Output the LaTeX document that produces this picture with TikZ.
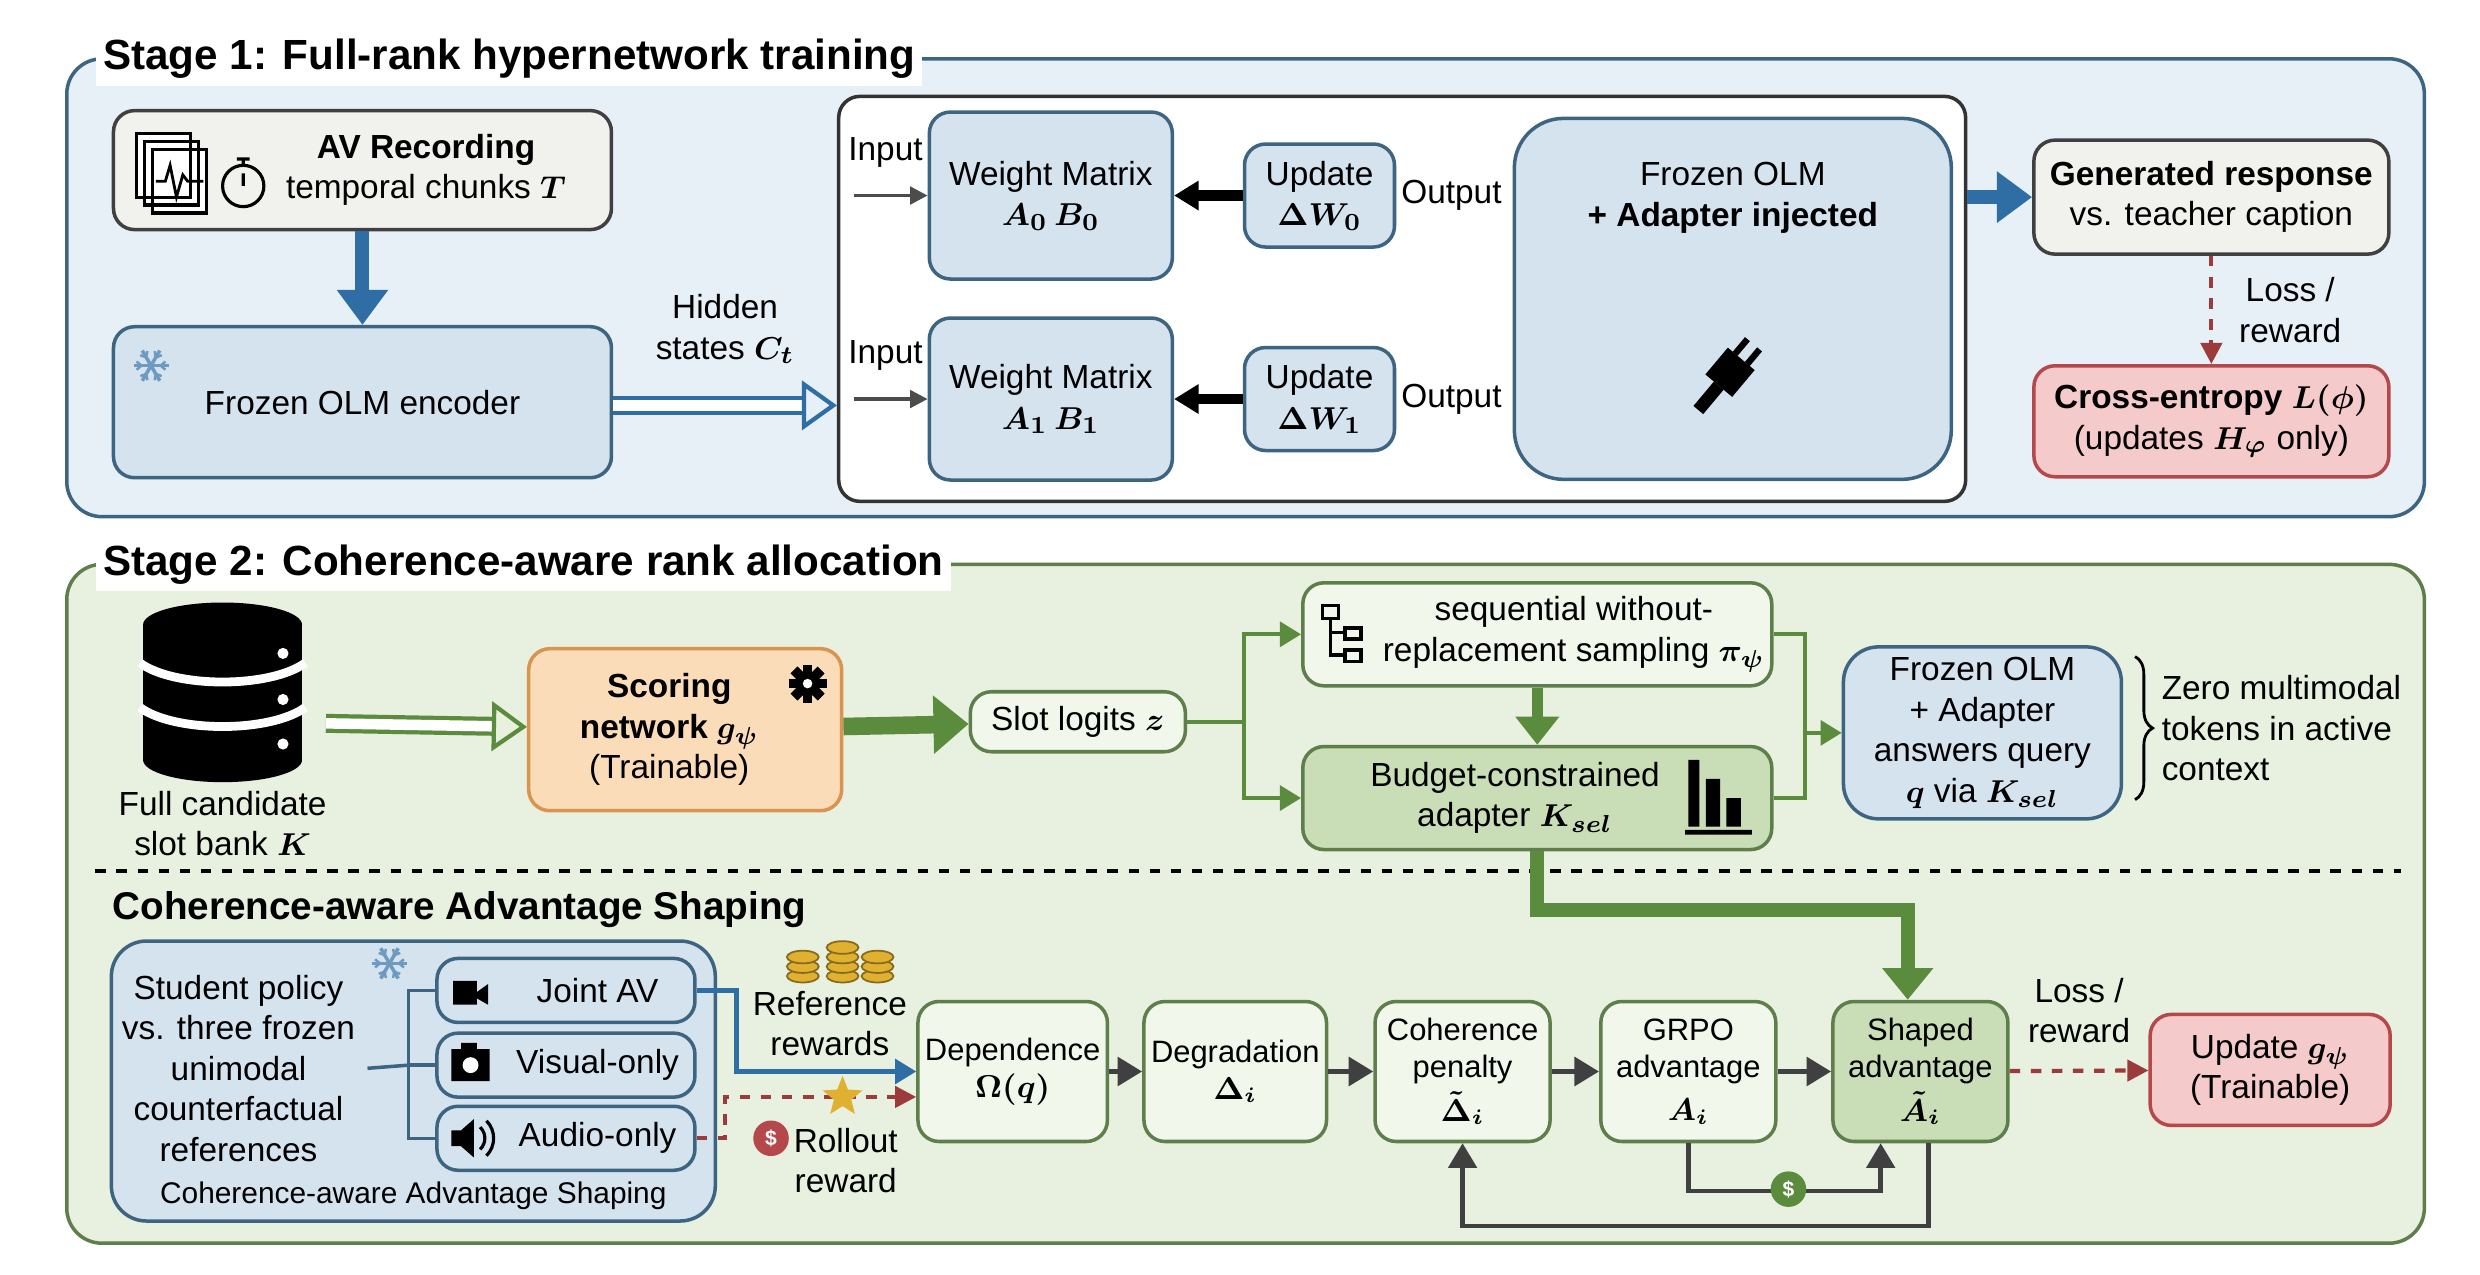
\documentclass[tikz,border=0pt]{standalone}
\usepackage{amsmath,amssymb}
\usepackage{fontspec}
\setmainfont{Liberation Sans}
\usetikzlibrary{arrows.meta,positioning,calc,shapes.geometric,decorations.pathreplacing}
\definecolor{bgone}{HTML}{E7EFF7}
\definecolor{bgtwo}{HTML}{E8F0DF}
\definecolor{lineone}{HTML}{3D6582}
\definecolor{linetwo}{HTML}{5E7F4C}
\definecolor{fillblue}{HTML}{D5E3EF}
\definecolor{fillgray}{HTML}{F1F1EE}
\definecolor{fillred}{HTML}{F5CACA}
\definecolor{linered}{HTML}{B5484A}
\definecolor{fillgreen}{HTML}{C9DDB6}
\definecolor{paleg}{HTML}{F2F7EC}
\definecolor{fillorange}{HTML}{FADCB8}
\definecolor{lineorange}{HTML}{D99450}
\definecolor{arrblue}{HTML}{2F6EA5}
\definecolor{arrgreen}{HTML}{5B8C3E}
\definecolor{arrred}{HTML}{9B3B3B}
\definecolor{gold}{HTML}{E0B030}
\begin{document}
\begin{tikzpicture}[x=0.0159cm, y=-0.0159cm,
        font=\fontsize{9.5}{11.5}\selectfont,
        box/.style = {draw=lineone, fill=fillblue, rounded corners=6pt, line width=1pt, align=center, inner sep=2pt},
        gbox/.style = {draw=linetwo, fill=paleg, rounded corners=6pt, line width=1pt, align=center, inner sep=2pt},
        pbox/.style = {gbox, minimum width=1.75cm, minimum height=1.4cm, font=\fontsize{8.8}{10.5}\selectfont},
        stage/.style = {rounded corners=10pt, line width=1pt},
        title/.style = {font=\bfseries\fontsize{12}{14}\selectfont, fill=white, inner sep=2pt, anchor=west},
        arrow/.style = {line width=1.6pt, -{Triangle[length=7pt,width=8pt]}, draw=black!75},
        thin arrow/.style = {line width=1pt, -{Triangle[length=5pt,width=5pt]}, draw=black!70},
        loss/.style = {line width=1.2pt, dashed, draw=arrred, -{Triangle[length=6pt,width=6pt]}},
        snowflake/.pic = {\foreach \a in {0,60,120} \draw[arrblue!70, line width=1pt] (\a:-11) -- (\a:11);
                          \foreach \a in {0,60,...,300} \draw[arrblue!70, line width=0.7pt] (\a:6) -- ++(\a+40:4) (\a:6) -- ++(\a-40:4);}
        ]
    \useasboundingbox (0,0) rectangle (1560,802);

    % stage 1
    \draw[stage, draw=lineone, fill=bgone] (42,37) rectangle (1525,325);
    \node[title] (t1) at (60,37) {Stage 1: Full-rank hypernetwork training};
    \node[draw=black!80, fill=white, rounded corners=6pt, line width=1pt, minimum width=11.27cm, minimum height=4.05cm] (inner) at (882,188) {};

    \node[box, fill=fillgray, draw=black!75, minimum width=4.98cm, minimum height=1.19cm] (av) at (228,107) {};
    \node[align=center] (avt) at (268,107) {\textbf{AV Recording}\\temporal chunks $\boldsymbol{T}$};
    \draw[fill=white, line width=0.9pt] (86,84) rectangle (120,124) (91,89) rectangle (125,129) (96,94) rectangle (130,134);
    \draw[line width=0.8pt] (98,114) -- (104,114) -- (107,104) -- (111,124) -- (115,110) -- (118,114) -- (128,114);
    \draw[line width=0.9pt] (153,117) circle (13) (153,104) -- (153,100) (149,100) -- (157,100) (153,117) -- (153,109);
    \node[box, minimum width=4.98cm, minimum height=1.51cm] (enc) at (228,253) {Frozen OLM encoder};
    \pic at (95,230) {snowflake};

    \node[box, minimum width=2.43cm, minimum height=1.67cm] (w0) at (661,123) {Weight Matrix\\$\boldsymbol{A_0\,B_0}$};
    \node[box, minimum width=2.43cm, minimum height=1.62cm] (w1) at (661,251) {Weight Matrix\\$\boldsymbol{A_1\,B_1}$};
    \node[box, minimum width=1.5cm, minimum height=1.03cm] (u0) at (830,123) {Update\\$\boldsymbol{\Delta W_0}$};
    \node[box, minimum width=1.5cm, minimum height=1.03cm] (u1) at (830,251) {Update\\$\boldsymbol{\Delta W_1}$};
    \node (o0) at (913,123) {Output};
    \node (o1) at (913,251) {Output};
    \node[box, rounded corners=14pt, minimum width=4.37cm, minimum height=3.61cm] (olm) at (1090,188) {Frozen OLM\\\textbf{+ Adapter injected}\\[48pt]};
    % plug
    \begin{scope}[shift={(1085,238)}, rotate=-40]
        \fill[black] (-11,-16) rectangle (11,6);
        \fill[black] (-7,-16) rectangle (-3,-28) (3,-16) rectangle (7,-28);
        \fill[black] (-4,6) rectangle (4,26);
    \end{scope}
    \node[box, fill=fillgray, draw=black!75, minimum width=3.55cm, minimum height=1.14cm] (gen) at (1391,124) {\textbf{Generated response}\\vs. teacher caption};
    \node[box, fill=fillred, draw=linered, minimum width=3.55cm, minimum height=1.11cm] (ce) at (1391,265) {\textbf{Cross-entropy $\boldsymbol{L(\phi)}$}\\(updates $\boldsymbol{H_\varphi}$ only)};

    \coordinate (in0) at (537,123);
    \coordinate (in1) at (537,251);
    \node[anchor=south] (i0) at (557,113) {Input};
    \node[anchor=south] (i1) at (557,241) {Input};
    \draw[thin arrow] (in0) -- (w0);
    \draw[thin arrow] (in1) -- (w1);
    \draw[arrow, draw=black, line width=3pt] (u0) -- (w0);
    \draw[arrow, draw=black, line width=3pt] (u1) -- (w1);
    \draw[draw=arrblue, line width=4pt, -{Triangle[length=10pt,width=14pt]}] (av) -- (enc);
    \draw[draw=arrblue, double=white, double distance=3pt, line width=1.2pt, -{Triangle[open,length=10pt,width=14pt]}] (enc.east |- 0,255) -- (inner.west |- 0,255)
        node[midway, above=8pt, align=center] {Hidden\\states $\boldsymbol{C_t}$};
    \draw[draw=arrblue, line width=4pt, -{Triangle[length=10pt,width=14pt]}] (inner.east |- gen) -- (gen);
    \draw[loss] (gen) -- (ce) node[midway, right=4pt, align=center] {Loss /\\reward};

    % stage 2
    \draw[stage, draw=linetwo, fill=bgtwo] (42,355) rectangle (1525,782);
    \node[title] (t2) at (60,355) {Stage 2: Coherence-aware rank allocation};

    % database
    \fill[black] (90,393) rectangle (190,478);
    \fill[black] (140,393) ellipse (50 and 14);
    \fill[black] (140,478) ellipse (50 and 14);
    \draw[white, line width=2.5pt] (88,417) .. controls (110,433) and (170,433) .. (192,417);
    \draw[white, line width=2.5pt] (88,445) .. controls (110,461) and (170,461) .. (192,445);
    \fill[white] (178,411) circle (3.5) (178,440) circle (3.5) (178,468) circle (3.5);
    \node[align=center] (db) at (140,518) {Full candidate\\slot bank $\boldsymbol{K}$};
    \coordinate (dbe) at (205,455);

    \node[gbox, fill=fillorange, draw=lineorange, minimum width=3.13cm, minimum height=1.62cm] (score) at (431,459) {};
    \node[align=center] (scoret) at (421,459) {\textbf{Scoring}\\\textbf{network $\boldsymbol{g_\psi}$}\\(Trainable)};
    \fill[black] (508,430) circle (8);
    \foreach \a in {0,45,...,315} \fill[black, rotate around={\a:(508,430)}] (505,418) rectangle (511,442);
    \fill[white] (508,430) circle (3);
    \node[gbox, minimum width=2.15cm, minimum height=0.6cm] (slot) at (678,454) {Slot logits $\boldsymbol{z}$};
    \node[gbox, minimum width=4.69cm, minimum height=1.03cm] (samp) at (967,399) {};
    \node[align=center] (sampt) at (990,399) {sequential without-\\replacement sampling $\boldsymbol{\pi_\psi}$};
    \draw[line width=1pt] (832,381) rectangle (842,389) (846,395) rectangle (856,402) (846,409) rectangle (856,416) (837,389) |- (846,398) (837,389) |- (846,412);
    \node[gbox, fill=fillgreen, minimum width=4.69cm, minimum height=1.03cm] (budg) at (967,502) {};
    \node[align=center] (budgt) at (953,502) {Budget-constrained\\adapter $\boldsymbol{K_{sel}}$};
    \fill[black] (1062,478) rectangle (1069,520) (1073,490) rectangle (1082,520) (1086,502) rectangle (1095,520) (1060,522) rectangle (1102,525);
    \node[box, rounded corners=10pt, minimum width=2.78cm, minimum height=1.72cm] (olm2) at (1247,461) {Frozen OLM\\+ Adapter\\answers query\\$\boldsymbol{q}$ via $\boldsymbol{K_{sel}}$};
    \draw[decorate, decoration={brace, amplitude=5pt}, line width=0.8pt] (1343,413) -- (1343,503);
    \node[align=left, anchor=west] (zero) at (1352,458) {Zero multimodal\\tokens in active\\context};

    \draw[draw=arrgreen, double=white, double distance=3pt, line width=1.2pt, -{Triangle[open,length=10pt,width=14pt]}] (dbe) -- (score);
    \draw[draw=arrgreen, line width=5pt, -{Triangle[length=10pt,width=16pt]}] (score) -- (slot);
    \draw[draw=arrgreen, line width=1.2pt, -{Triangle[length=6pt,width=7pt]}] (slot.east) -- ++(36,0) |- (samp.west);
    \draw[draw=arrgreen, line width=1.2pt, -{Triangle[length=6pt,width=7pt]}] (slot.east) -- ++(36,0) |- (budg.west);
    \draw[draw=arrgreen, line width=3pt, -{Triangle[length=8pt,width=12pt]}] (samp) -- (budg);
    \draw[draw=arrgreen, line width=1.2pt] (samp.east) -- ++(20,0) |- (budg.east);
    \draw[draw=arrgreen, line width=1.2pt, -{Triangle[length=6pt,width=7pt]}] (olm2.west -| budg.east) ++(20,0) -- (olm2.west);

    \draw[dashed, line width=1pt] (60,548) -- (1510,548);
    \node[font=\bfseries\fontsize{11}{13}\selectfont, anchor=west] (t3) at (63,572) {Coherence-aware Advantage Shaping};

    % student policy block
    \node[box, rounded corners=10pt, minimum width=6.04cm, minimum height=2.8cm] (stud) at (260,680) {};
    \node[align=center] (stu) at (150,672) {Student policy\\vs. three frozen\\unimodal\\counterfactual\\references};
    \node[font=\fontsize{8.5}{10}\selectfont] (cap) at (260,752) {Coherence-aware Advantage Shaping};
    \pic at (245,606) {snowflake};
    \node[box, minimum width=2.58cm, minimum height=0.64cm] (joint) at (356,623) {\hspace*{18pt}Joint AV};
    \node[box, minimum width=2.58cm, minimum height=0.64cm] (vis) at (356,670) {\hspace*{18pt}Visual-only};
    \node[box, minimum width=2.58cm, minimum height=0.64cm] (aud) at (356,716) {\hspace*{18pt}Audio-only};
    \fill[black] (285,617) rectangle (300,632) (300,624) -- (307,619) -- (307,632) -- (300,628) -- cycle;
    \fill[black] (284,660) rectangle (308,680) (290,656) rectangle (300,660);
    \fill[white] (296,670) circle (5);
    \fill[black] (284,711) rectangle (290,721) (290,711) -- (298,704) -- (298,728) -- (290,721) -- cycle;
    \draw[line width=0.9pt] (302,709) .. controls (306,713) and (306,719) .. (302,723);
    \draw[line width=0.9pt] (306,705) .. controls (312,711) and (312,721) .. (306,727);
    \coordinate (br) at (257,670);
    \draw[draw=lineone, line width=1pt] (stu.east) -- (br);
    \draw[draw=lineone, line width=1pt] (joint.west) -| (br) |- (aud.west);
    \draw[draw=lineone, line width=1pt] (br) -- (vis.west);

    % pipeline
    \node[pbox] (dep) at (637,674) {Dependence\\$\boldsymbol{\Omega(q)}$};
    \node[pbox] (deg) at (777,674) {Degradation\\$\boldsymbol{\Delta_i}$};
    \node[pbox] (coh) at (920,674) {Coherence\\penalty\\[2pt]$\boldsymbol{\tilde{\Delta}_i}$};
    \node[pbox] (grpo) at (1062,674) {GRPO\\advantage\\[2pt]$\boldsymbol{A_i}$};
    \node[pbox, fill=fillgreen] (shp) at (1208,674) {Shaped\\advantage\\[2pt]$\boldsymbol{\tilde{A}_i}$};
    \node[box, fill=fillred, draw=linered, minimum width=2.4cm, minimum height=1.11cm] (upd) at (1428,673) {Update $\boldsymbol{g_\psi}$\\(Trainable)};

    \draw[draw=arrblue, line width=1.2pt, -{Triangle[length=6pt,width=7pt]}] (joint.east) -- ++(25,0) |- (dep.west);
    \draw[loss] (aud.east) -- ++(18,0) |- ($(dep.west)+(0,16)$);
    \node[star, star points=5, star point ratio=2.3, fill=gold, minimum size=0.42cm, inner sep=0pt] (star) at (530,690) {};
    \node[circle, fill=linered, text=white, font=\bfseries\fontsize{6}{6}\selectfont, inner sep=1.5pt] (bag) at (485,716) {\$};
    \node[align=center] (roll) at (532,730) {Rollout\\reward};
    \foreach \cx/\n in {505/3, 530/4, 552/3}
        \foreach \k in {1,...,\n} \draw[fill=gold, draw=gold!60!black, line width=0.5pt] (\cx,620-6*\k) ellipse (10 and 4);
    \node[align=center] (refr) at (522,644) {Reference\\rewards};

    \draw[arrow] (dep) -- (deg);
    \draw[arrow] (deg) -- (coh);
    \draw[arrow] (coh) -- (grpo);
    \draw[arrow] (grpo) -- (shp);
    \draw[loss] (shp) -- (upd) node[midway, above=4pt, align=center] {Loss /\\reward};
    \draw[draw=arrgreen, line width=4pt, -{Triangle[length=9pt,width=14pt]}] (budg.south) -- ++(0,37) -| ($(shp.north)+(-8,0)$);
    \draw[arrow, line width=1.3pt] (grpo.south) -- ++(0,30) -| ($(shp.south)+(-25,0)$);
    \draw[arrow, line width=1.3pt] ($(shp.south)+(5,0)$) -- ++(0,52) -| (coh.south);
    \node[circle, fill=arrgreen, text=white, font=\bfseries\fontsize{6}{6}\selectfont, inner sep=1.5pt] (bag2) at (1125,748) {\$};
\end{tikzpicture}
\end{document}
